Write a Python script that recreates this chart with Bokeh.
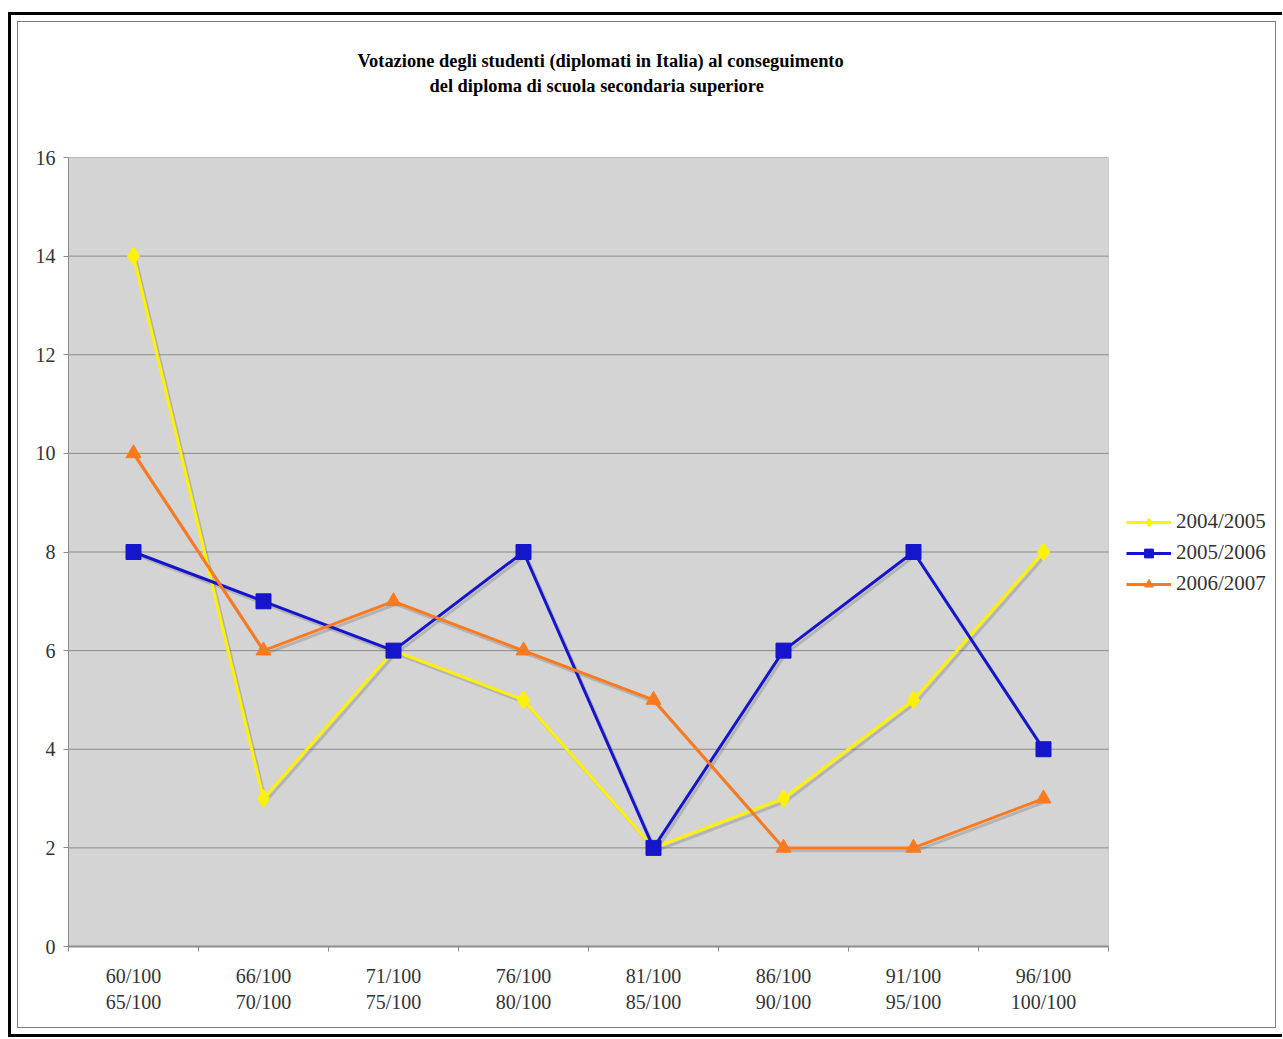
from bokeh.plotting import figure
from bokeh.models import Range1d, FixedTicker, Legend, LegendItem, Title, ColumnDataSource, BoxAnnotation
from bokeh.embed import file_html
from bokeh.resources import INLINE
from bokeh.transform import dodge

# ---- data ----
categories = ["60/100\n65/100", "66/100\n70/100", "71/100\n75/100", "76/100\n80/100",
              "81/100\n85/100", "86/100\n90/100", "91/100\n95/100", "96/100\n100/100"]
s2004_2005 = [14, 3, 6, 5, 2, 3, 5, 8]
s2005_2006 = [8, 7, 6, 8, 2, 6, 8, 4]
s2006_2007 = [10, 6, 7, 6, 5, 2, 2, 3]
series_names = ["2004/2005", "2005/2006", "2006/2007"]
y_ticks = [0, 2, 4, 6, 8, 10, 12, 14, 16]
title_lines = ["Votazione degli studenti (diplomati in Italia) al conseguimento",
               "del diploma di scuola secondaria superiore"]

FONT = "Liberation Serif"
n = len(categories)
xs = list(range(n))
bounds = [i - 0.5 for i in range(n + 1)]
src = ColumnDataSource(dict(x=xs, a=s2004_2005, b=s2005_2006, c=s2006_2007))

PLOT_W = 1040      # width of the grey plotting area
EXTRA_W = 174      # white strip on the right that holds the legend
FRAME_W = PLOT_W + EXTRA_W

p = figure(frame_width=FRAME_W, frame_height=789, output_backend="svg", toolbar_location=None,
           title=None,
           x_range=Range1d(bounds[0], bounds[0] + n * FRAME_W / PLOT_W),
           y_range=Range1d(y_ticks[0], y_ticks[-1]),
           min_border_left=57, min_border_right=0, min_border_top=0, min_border_bottom=88)
p.background_fill_alpha = 0
p.border_fill_alpha = 0
p.outline_line_color = None

# grey plotting area
p.add_layout(BoxAnnotation(left=bounds[0], right=bounds[-1], bottom=y_ticks[0], top=y_ticks[-1],
                           fill_color="#d4d4d4", fill_alpha=1, line_color="#8a8a8a",
                           line_width=1, level="image"))

# title block: panels stack outward from the frame
def spacer(standoff):
    return Title(text=" ", text_font=FONT, text_font_size="18px", standoff=standoff)

p.add_layout(spacer(38), "above")
p.add_layout(Title(text=title_lines[1], align="left", offset=361, text_font=FONT,
                   text_font_size="18.4px", text_font_style="bold", text_color="black",
                   standoff=3), "above")
p.add_layout(Title(text=title_lines[0], align="left", offset=289, text_font=FONT,
                   text_font_size="18.4px", text_font_style="bold", text_color="black",
                   standoff=3), "above")
p.add_layout(spacer(10), "above")

# horizontal grid lines, limited to the plotting area
p.xgrid.grid_line_color = None
p.ygrid.grid_line_color = None
p.segment(x0=[bounds[0]] * len(y_ticks), x1=[bounds[-1]] * len(y_ticks), y0=y_ticks, y1=y_ticks,
          line_color="#8c8c8c", line_width=1)

# y axis
p.yaxis.ticker = FixedTicker(ticks=y_ticks)
p.yaxis.axis_line_color = "#8c8c8c"
p.yaxis.major_tick_line_color = "#8c8c8c"
p.yaxis.major_tick_out = 5
p.yaxis.major_tick_in = 0
p.yaxis.minor_tick_line_color = None
p.yaxis.major_label_text_font = FONT
p.yaxis.major_label_text_font_size = "20px"
p.yaxis.major_label_text_color = "#333333"
p.yaxis.major_label_standoff = 8

# x axis
p.xaxis.ticker = FixedTicker(ticks=xs, minor_ticks=bounds)
p.xaxis.bounds = (bounds[0], bounds[-1])
p.xaxis.major_label_overrides = {i: c for i, c in enumerate(categories)}
p.xaxis.axis_line_color = "#8c8c8c"
p.xaxis.axis_line_width = 2
p.xaxis.major_tick_line_color = None
p.xaxis.major_tick_out = 5
p.xaxis.major_tick_in = 0
p.xaxis.minor_tick_line_color = "#8c8c8c"
p.xaxis.minor_tick_out = 5
p.xaxis.minor_tick_in = 0
p.xaxis.major_label_text_font = FONT
p.xaxis.major_label_text_font_size = "20px"
p.xaxis.major_label_text_color = "#333333"
p.xaxis.major_label_standoff = 13

colors = ["#fff200", "#1515cc", "#fb7a1e"]
markers = ["diamond", "square", "triangle"]
sizes = [18, 15, 15]
fields = ["a", "b", "c"]

# soft drop shadows
for f in fields:
    p.line(x=dodge("x", 0.018), y=dodge(f, -0.06), source=src, line_color="#555555",
           line_alpha=0.25, line_width=3)

items = []
for f, col, mk, sz, name in zip(fields, colors, markers, sizes, series_names):
    ln = p.line(x="x", y=f, source=src, line_color=col, line_width=3)
    sc = p.scatter(x="x", y=f, source=src, marker=mk, size=sz, fill_color=col, line_color=col)
    items.append(LegendItem(label=name, renderers=[ln, sc]))

legend = Legend(items=items, location=(PLOT_W + 18, 350), border_line_color=None,
                background_fill_alpha=0, label_text_font=FONT, label_text_font_size="21px",
                label_text_color="#333333", glyph_width=45, glyph_height=22, label_height=22,
                spacing=6, padding=10, margin=0, label_standoff=5)
p.add_layout(legend)

p.styles = {"margin-top": "12px", "margin-left": "8px",
            "border-left": "3px solid black", "border-top": "3px solid black",
            "border-bottom": "3px solid black", "background-color": "white",
            "box-shadow": "inset 0 0 0 6px white, inset 0 0 0 7px #808080"}

open("out.html", "w").write(file_html(p, INLINE))
